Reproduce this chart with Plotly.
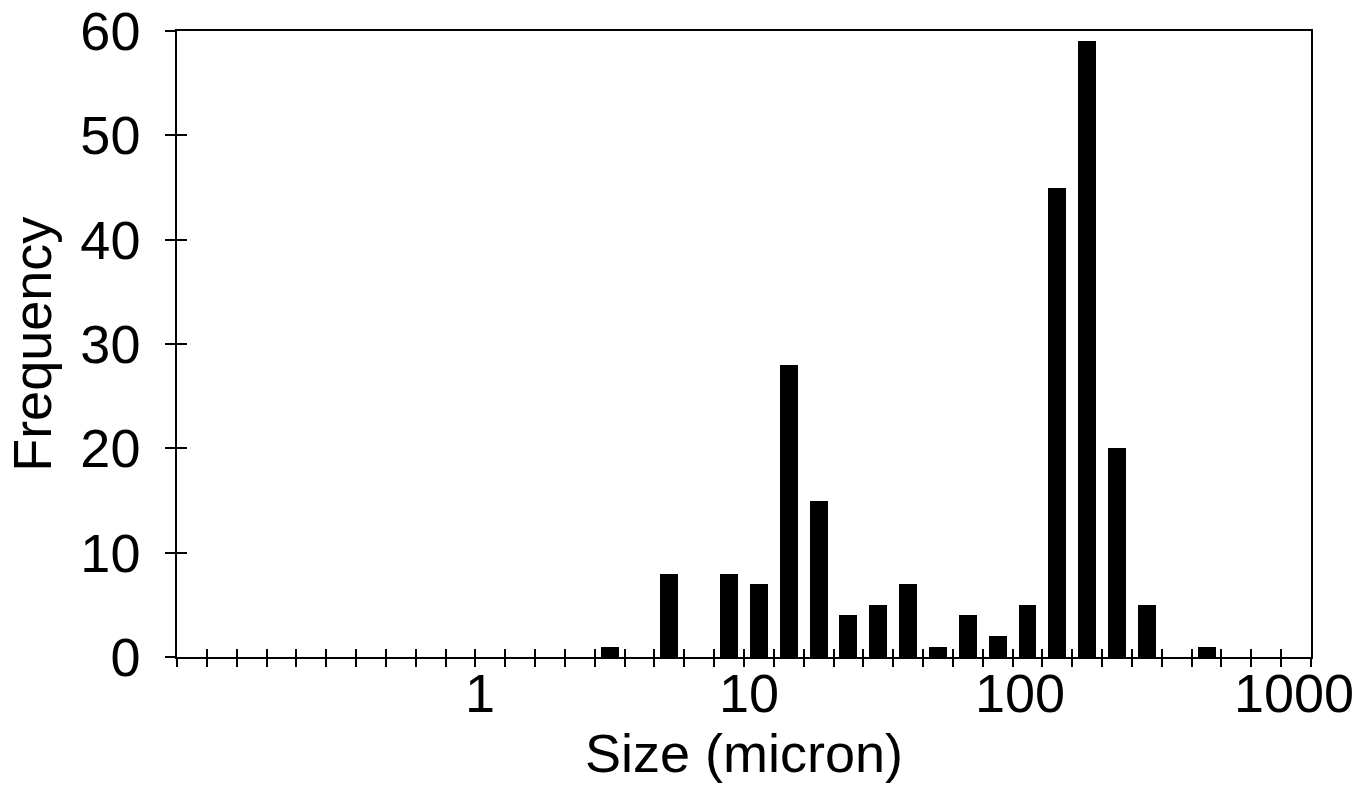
import numpy as np
import plotly.graph_objects as go

# 38 equal-width size classes (log-spaced bins), frequency per class
frequency = [0, 0, 0, 0, 0, 0, 0, 0, 0, 0,
             0, 0, 0, 0, 1, 0, 8, 0, 8, 7,
             28, 15, 4, 5, 7, 1, 4, 2, 5, 45,
             59, 20, 5, 0, 1, 0, 0, 0]
n_bins = len(frequency)
bin_index = np.arange(n_bins)

# decade labels and their location along the class axis
tick_labels = ["1", "10", "100", "1000"]
tick_label_pos = [10.15, 19.17, 28.25, 37.43]

y_ticks = [0, 10, 20, 30, 40, 50, 60]

FONT = "Liberation Sans, Arial, sans-serif"
FS = 54

fig = go.Figure()
fig.add_trace(go.Bar(x=bin_index + 0.5, y=frequency, width=0.6,
                     marker=dict(color="black", line=dict(width=0)),
                     xaxis="x", yaxis="y", showlegend=False))
fig.add_trace(go.Scatter(x=[None], y=[None], xaxis="x2", yaxis="y2",
                         showlegend=False, hoverinfo="skip"))
fig.add_trace(go.Scatter(x=[None], y=[None], xaxis="x3", yaxis="y",
                         showlegend=False, hoverinfo="skip"))

common_x = dict(range=[0, n_bins], showgrid=False, zeroline=False,
                fixedrange=True, automargin=False)
common_y = dict(range=[0, 60], showgrid=False, zeroline=False,
                fixedrange=True, automargin=False)

fig.update_layout(
    width=1371, height=801,
    margin=dict(l=177, r=60, t=31, b=144),
    paper_bgcolor="white", plot_bgcolor="white",
    font=dict(family=FONT, size=FS, color="black"),
    bargap=0,
    xaxis=dict(**common_x, tickmode="linear", tick0=0, dtick=1,
               ticks="outside", ticklen=8, tickwidth=1.5, tickcolor="black",
               showticklabels=False, showline=True, linecolor="black",
               linewidth=1.5, mirror=True, anchor="y"),
    xaxis2=dict(**common_x, overlaying="x", anchor="y", tickmode="linear",
                tick0=0, dtick=1, ticks="inside", ticklen=8, tickwidth=1.5,
                tickcolor="black", showticklabels=False, showline=False),
    xaxis3=dict(**common_x, overlaying="x", anchor="y", tickmode="array",
                tickvals=tick_label_pos, ticktext=tick_labels, ticks="",
                showline=False, ticklabelstandoff=0,
                tickfont=dict(family=FONT, size=FS, color="black")),
    yaxis=dict(**common_y, tickmode="array", tickvals=y_ticks,
               ticks="outside", ticklen=10, tickwidth=1.5, tickcolor="black",
               showline=True, linecolor="black", linewidth=1.5, mirror=True,
               ticklabelstandoff=14,
               tickfont=dict(family=FONT, size=FS, color="black")),
    yaxis2=dict(**common_y, overlaying="y", anchor="x", tickmode="array",
                tickvals=y_ticks, ticks="inside", ticklen=10, tickwidth=1.5,
                tickcolor="black", showticklabels=False, showline=False),
    annotations=[
        dict(text="Size (micron)", xref="paper", yref="paper", x=0.5, y=-0.153,
             xanchor="center", yanchor="middle", showarrow=False,
             font=dict(family=FONT, size=FS, color="black")),
        dict(text="Frequency", xref="paper", yref="paper", x=-0.128, y=0.5,
             xanchor="center", yanchor="middle", textangle=-90, showarrow=False,
             font=dict(family=FONT, size=FS, color="black")),
    ],
)

fig.write_html("out.html")
